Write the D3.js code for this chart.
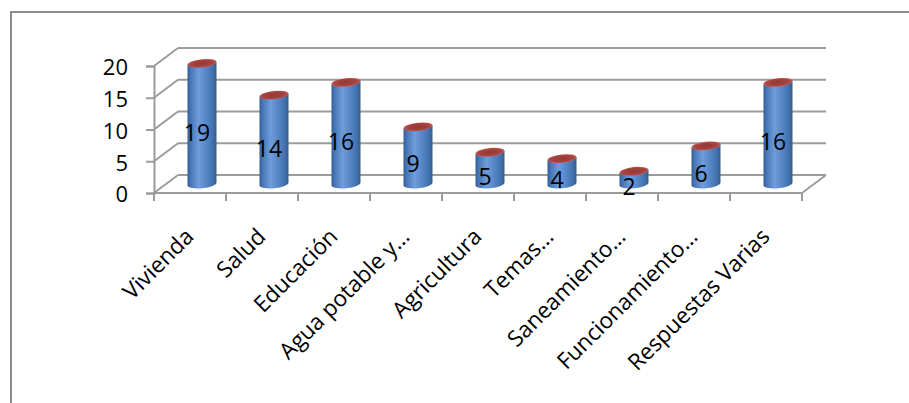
<!DOCTYPE html>
<html>
<head>
<meta charset="utf-8">
<script src="https://cdn.jsdelivr.net/npm/d3@7"></script>
<style>
  html, body { margin: 0; padding: 0; background: #fff; }
  svg { display: block; }
  text { font-family: "Open Sans", "Noto Sans", sans-serif; fill: #000; }
</style>
</head>
<body>
<svg id="chart" width="909" height="403"></svg>
<script>
// Responses per topic
const categories = ["Vivienda", "Salud", "Educación", "Agua potable y…", "Agricultura",
                    "Temas…", "Saneamiento…", "Funcionamiento…", "Respuestas Varias"];
const values = [19, 14, 16, 9, 5, 4, 2, 6, 16];
const yTicks = [0, 5, 10, 15, 20];

const svg = d3.select("#chart");
const W = 909, H = 403;

// Outer frame
svg.append("rect").attr("x", 11).attr("y", 12).attr("width", W + 20).attr("height", H + 20)
  .attr("fill", "#fff").attr("stroke", "#8c8c8c").attr("stroke-width", 2);

// 3D box: front plane + depth offset to the back wall
const depth = { dx: 24, dy: -18 };
const x = d3.scaleBand().domain(categories).range([154, 802]);
const yFront = d3.scaleLinear().domain([0, 20]).range([193, 66]);
const yMid = v => yFront(v) + depth.dy / 2;

const defs = svg.append("defs");
const bodyGrad = defs.append("linearGradient").attr("id", "cylBody")
  .attr("x1", "0%").attr("x2", "100%").attr("y1", "0%").attr("y2", "0%");
[["0%", "#345d93"], ["10%", "#4575b4"], ["38%", "#6c9cdc"], ["55%", "#5f8fd0"],
 ["85%", "#4573b0"], ["100%", "#345c92"]]
  .forEach(([o, c]) => bodyGrad.append("stop").attr("offset", o).attr("stop-color", c));
const topGrad = defs.append("radialGradient").attr("id", "cylTop");
[["0%", "#943833"], ["75%", "#a5433f"], ["100%", "#c45a56"]]
  .forEach(([o, c]) => topGrad.append("stop").attr("offset", o).attr("stop-color", c));

const grid = svg.append("g").attr("stroke", "#9b9b9b").attr("stroke-width", 2).attr("fill", "none");
const backX0 = x.range()[0] + depth.dx, backX1 = x.range()[1] + depth.dx;
// back wall gridlines and side wall diagonals
yTicks.forEach(t => {
  grid.append("line").attr("x1", backX0).attr("x2", backX1)
    .attr("y1", yFront(t) + depth.dy).attr("y2", yFront(t) + depth.dy);
  grid.append("line").attr("x1", x.range()[0]).attr("x2", backX0)
    .attr("y1", yFront(t)).attr("y2", yFront(t) + depth.dy);
});
// floor right edge
grid.append("line").attr("x1", x.range()[1]).attr("x2", backX1)
  .attr("y1", yFront(0)).attr("y2", yFront(0) + depth.dy);

// value axis on the front plane
const yAxis = svg.append("g").attr("transform", `translate(${x.range()[0]},0)`)
  .call(d3.axisLeft(yFront).tickValues(yTicks).tickSize(8).tickPadding(18).tickFormat(d3.format("d")));
yAxis.select(".domain").attr("stroke", "#9b9b9b").attr("stroke-width", 2);
yAxis.selectAll(".tick line").attr("stroke", "#9b9b9b").attr("stroke-width", 2);
yAxis.selectAll(".tick text").style("font-size", "22px").attr("dy", "0.4em");

// category axis line and boundary ticks
const catAxis = svg.append("g");
catAxis.append("line").attr("x1", x.range()[0]).attr("x2", x.range()[1])
  .attr("y1", yFront(0)).attr("y2", yFront(0)).attr("stroke", "#9b9b9b").attr("stroke-width", 2);
d3.range(categories.length + 1).forEach(i => {
  const tx = x.range()[0] + i * x.step();
  catAxis.append("line").attr("x1", tx).attr("x2", tx)
    .attr("y1", yFront(0)).attr("y2", yFront(0) + 8).attr("stroke", "#9b9b9b").attr("stroke-width", 2);
});
catAxis.selectAll("text.cat").data(categories).join("text").attr("class", "cat")
  .attr("text-anchor", "end").style("font-size", "22.5px")
  .attr("transform", d => `translate(${x(d) + x.bandwidth() / 2 + 5},${yFront(0) + 45}) rotate(-45)`)
  .text(d => d);

// cylinders
const rx = 14.5, ry = 4.2, tilt = -6;
const tiltDy = rx * Math.sin(-tilt * Math.PI / 180);
const bars = svg.append("g").selectAll("g").data(categories.map((c, i) => ({ c, v: values[i] }))).join("g");
bars.each(function (d) {
  const g = d3.select(this);
  const cx = x(d.c) + x.bandwidth() / 2 + depth.dx / 2;
  const yTop = yMid(d.v), yBot = yMid(0);
  g.append("path")
    .attr("d", `M${cx - rx},${yTop + tiltDy} L${cx - rx},${yBot + tiltDy} ` +
               `A${rx},${ry} ${tilt} 0 0 ${cx + rx},${yBot - tiltDy} L${cx + rx},${yTop - tiltDy} Z`)
    .attr("fill", "url(#cylBody)");
  g.append("ellipse").attr("cx", cx).attr("cy", yTop).attr("rx", rx).attr("ry", ry)
    .attr("transform", `rotate(${tilt},${cx},${yTop})`).attr("fill", "url(#cylTop)");
});

// value labels
svg.append("g").selectAll("text").data(categories.map((c, i) => ({ c, v: values[i] }))).join("text")
  .attr("text-anchor", "middle").style("font-size", "23px")
  .attr("x", d => x(d.c) + x.bandwidth() / 2 + 7)
  .attr("y", d => yFront(d.v / 2) + 8)
  .text(d => d.v);
</script>
</body>
</html>
